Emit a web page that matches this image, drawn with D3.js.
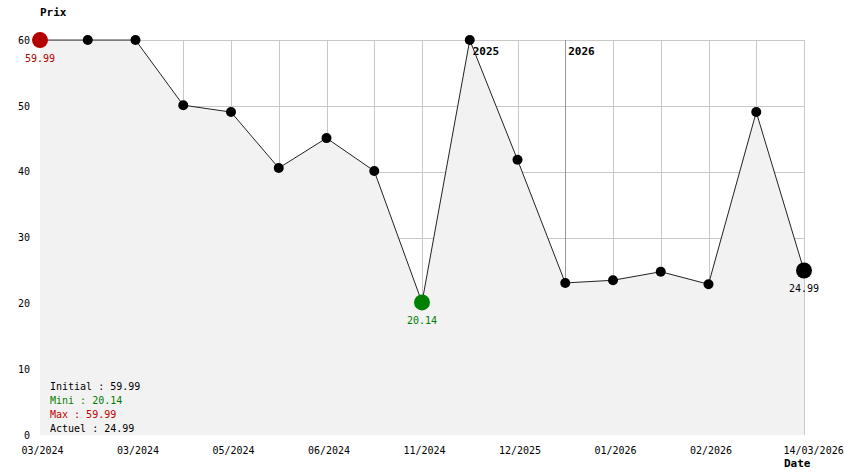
<!DOCTYPE html>
<html>
<head>
<meta charset="utf-8">
<script src="https://cdn.jsdelivr.net/npm/d3@7"></script>
<style>
  body { margin: 0; background: #fff; }
  svg text { font-family: "DejaVu Sans Mono", monospace; }
</style>
</head>
<body>
<div id="chart"></div>
<script>
// price history, one point per record
var prices = [59.99, 59.99, 59.99, 50.1, 49.05, 40.55, 45.1, 40.1, 20.14, 59.99, 41.8, 23.1, 23.5, 24.8, 22.9, 49.05, 24.99];
// labels for the x axis (every other point)
var dateLabels = ["03/2024", "", "03/2024", "", "05/2024", "", "06/2024", "", "11/2024", "", "12/2025", "", "01/2026", "", "02/2026", "", "14/03/2026"];
var yTicks = [0, 10, 20, 30, 40, 50, 60];
// year markers: index of the point where a new year starts
var yearNames = ["2025", "2026"];
var yearIndex = [9, 11];
var legendNames = ["Initial", "Mini", "Max", "Actuel"];
var legendValues = [59.99, 20.14, 59.99, 24.99];

var width = 844, height = 474;
var plotLeft = 40, plotRight = 804, plotTop = 40, plotBottom = 435;

var svg = d3.select("#chart")
  .append("svg")
    .attr("width", width)
    .attr("height", height);

var x = d3.scaleLinear().domain([0, prices.length - 1]).range([plotLeft, plotRight]);
var y = d3.scaleLinear().domain([0, 60]).range([plotBottom, plotTop]);

// grid lines
svg.append("g")
  .selectAll("line")
  .data(yTicks.slice(1))
  .enter().append("line")
    .attr("x1", plotLeft).attr("x2", plotRight)
    .attr("y1", function(d) { return Math.round(y(d)) + 0.5; })
    .attr("y2", function(d) { return Math.round(y(d)) + 0.5; })
    .attr("stroke", "#c8c8c8");

svg.append("g")
  .selectAll("line")
  .data(d3.range(1, prices.length))
  .enter().append("line")
    .attr("x1", function(d) { return Math.round(x(d)) + 0.5; })
    .attr("x2", function(d) { return Math.round(x(d)) + 0.5; })
    .attr("y1", plotTop).attr("y2", plotBottom)
    .attr("stroke", "#c8c8c8");

// year separators
svg.append("g")
  .selectAll("line")
  .data(yearIndex)
  .enter().append("line")
    .attr("x1", function(d) { return Math.round(x(d)) + 0.5; })
    .attr("x2", function(d) { return Math.round(x(d)) + 0.5; })
    .attr("y1", plotTop).attr("y2", plotBottom)
    .attr("stroke", "#999");

// area under the line
var area = d3.area()
  .x(function(d, i) { return x(i); })
  .y0(plotBottom)
  .y1(function(d) { return y(d); });

svg.append("path")
  .datum(prices)
  .attr("d", area)
  .attr("fill", "#f2f2f2");

svg.selectAll("text.year")
  .data(yearNames)
  .enter().append("text")
    .attr("class", "year")
    .attr("x", function(d, i) { return x(yearIndex[i]) + 3; })
    .attr("y", 55)
    .style("font-size", "11px")
    .style("font-weight", "bold")
    .text(function(d) { return d; });

// price line
var line = d3.line()
  .x(function(d, i) { return x(i); })
  .y(function(d) { return y(d); });

svg.append("path")
  .datum(prices)
  .attr("d", line)
  .attr("fill", "none")
  .attr("stroke", "#222")
  .attr("stroke-width", 1);

// points
var iMin = d3.minIndex(prices), last = prices.length - 1;
svg.selectAll("circle")
  .data(prices)
  .enter().append("circle")
    .attr("cx", function(d, i) { return x(i); })
    .attr("cy", function(d) { return y(d); })
    .attr("r", function(d, i) { return (i == 0 || i == iMin || i == last) ? 8 : 5; })
    .attr("fill", function(d, i) {
      if (i == 0) return "#b40000";
      if (i == iMin) return "#008000";
      return "#000";
    });

// value labels under the special points
var specials = [[0, "#b40000"], [iMin, "#008000"], [last, "#000"]];
svg.selectAll("text.val")
  .data(specials)
  .enter().append("text")
    .attr("class", "val")
    .attr("x", function(d) { return x(d[0]); })
    .attr("y", function(d) { return y(prices[d[0]]) + 22; })
    .attr("text-anchor", "middle")
    .style("font-size", "10px")
    .attr("fill", function(d) { return d[1]; })
    .text(function(d) { return prices[d[0]].toFixed(2); });

// axes
var yAxis = d3.axisLeft(y).tickValues(yTicks).tickSize(0).tickPadding(10);
svg.append("g")
  .attr("transform", "translate(" + plotLeft + ",0)")
  .call(yAxis)
  .call(function(g) { g.select(".domain").remove(); })
  .selectAll("text")
    .style("font-family", "DejaVu Sans Mono")
    .style("font-size", "10px")
    .attr("fill", "#000");

var xAxis = d3.axisBottom(x)
  .tickValues(d3.range(0, prices.length, 2))
  .tickFormat(function(i) { return dateLabels[i]; })
  .tickSize(0)
  .tickPadding(12);
svg.append("g")
  .attr("transform", "translate(0," + plotBottom + ")")
  .call(xAxis)
  .call(function(g) { g.select(".domain").remove(); })
  .selectAll("text")
    .style("font-family", "DejaVu Sans Mono")
    .style("font-size", "10px")
    .attr("fill", "#000")
    .attr("dx", 2)
    // the last date label starts at its point instead of being centred
    .filter(function(i) { return i == last; })
      .attr("text-anchor", "start")
      .attr("dx", -21);

// axis titles
svg.append("text")
  .attr("x", 40).attr("y", 16)
  .style("font-size", "11px")
  .style("font-weight", "bold")
  .text("Prix");

svg.append("text")
  .attr("x", 784).attr("y", 467)
  .style("font-size", "11px")
  .style("font-weight", "bold")
  .text("Date");

// legend
var legendColors = ["#000", "#008000", "#c00000", "#000"];
svg.selectAll("text.legend")
  .data(legendNames)
  .enter().append("text")
    .attr("class", "legend")
    .attr("x", 50)
    .attr("y", function(d, i) { return 390 + i * 14; })
    .style("font-size", "10px")
    .attr("fill", function(d, i) { return legendColors[i]; })
    .text(function(d, i) { return d + " : " + legendValues[i].toFixed(2); });
</script>
</body>
</html>
